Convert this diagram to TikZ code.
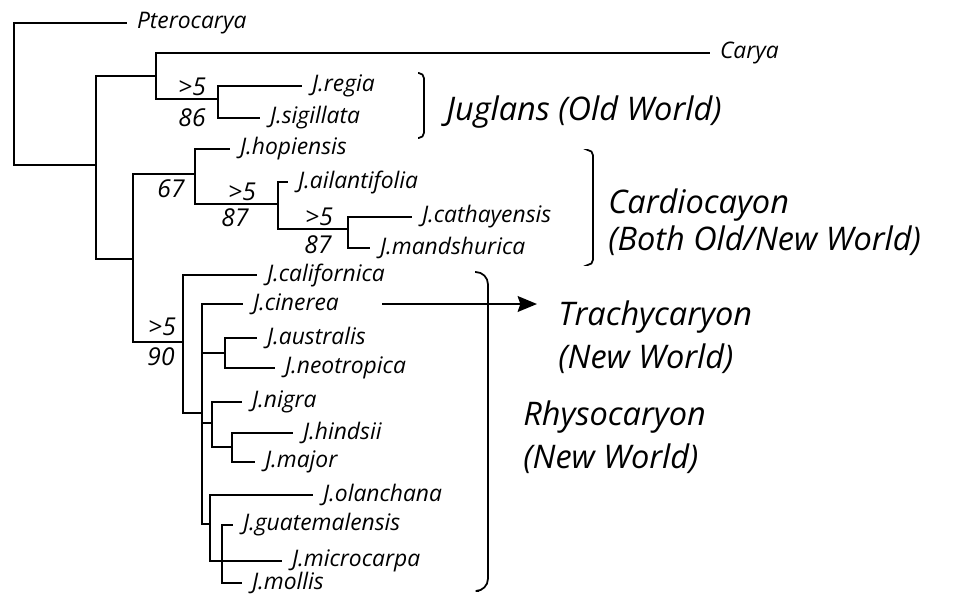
\documentclass[tikz,border=0pt]{standalone}
\usepackage{fontspec}
\setmainfont{Open Sans}
\usepackage{xcolor}
\usetikzlibrary{arrows.meta,positioning}

\newcommand{\taxonfont}{\fontsize{13}{15}\selectfont\itshape}
\newcommand{\bootfont}{\fontsize{14}{16}\selectfont\itshape}
\newcommand{\cladefont}{\fontsize{18.5}{21}\selectfont\itshape}

\begin{document}
\begin{tikzpicture}[x=0.02cm, y=-0.02cm, >={Stealth[length=11pt, width=9pt, inset=1.5pt]},
    branch/.style={line width=1.1pt},
    taxon/.style={anchor=west, inner xsep=5.5pt, inner ysep=1pt, font=\taxonfont},
    boot/.style={inner sep=0pt, font=\bootfont},
    clade/.style={anchor=west, align=left, inner sep=0pt, font=\cladefont},
    bracketline/.style={line width=1pt}]
    \useasboundingbox (0,0) rectangle (958,596);

    % Tips of the tree
    \node[taxon] (ptero) at (127,23) {Pterocarya};
    \node[taxon] (carya) at (710,53) {Carya};
    \node[taxon] (regia) at (302,86) {J.regia};
    \node[taxon] (sigil) at (260,118) {J.sigillata};
    \node[taxon] (hopi) at (230,149) {J.hopiensis};
    \node[taxon] (ailan) at (288,182) {J.ailantifolia};
    \node[taxon] (catha) at (412,217) {J.cathayensis};
    \node[taxon] (mands) at (370,248) {J.mandshurica};
    \node[taxon] (calif) at (257,275) {J.californica};
    \node[taxon] (ciner) at (243,304) {J.cinerea};
    \node[taxon] (austr) at (257,338) {J.australis};
    \node[taxon] (neotr) at (275,368) {J.neotropica};
    \node[taxon] (nigra) at (242,402) {J.nigra};
    \node[taxon] (hinds) at (293,433) {J.hindsii};
    \node[taxon] (major) at (255,462) {J.major};
    \node[taxon] (olanc) at (313,495) {J.olanchana};
    \node[taxon] (guate) at (233,525) {J.guatemalensis};
    \node[taxon] (micro) at (282,561) {J.microcarpa};
    \node[taxon] (molli) at (242,583) {J.mollis};

    % Internal nodes
    \coordinate (root) at (14,94);
    \coordinate (n1) at (96,165);
    \coordinate (n2) at (156,76);
    \coordinate (jug) at (218,99);
    \coordinate (n3) at (133,259);
    \coordinate (card) at (195,174);
    \coordinate (n4) at (278,204);
    \coordinate (n5) at (348,229);
    \coordinate (rhy) at (183,342);
    \coordinate (n6) at (202,413);
    \coordinate (n7) at (225,353);
    \coordinate (n8) at (212,423);
    \coordinate (n9) at (232,447);
    \coordinate (n10) at (210,524);
    \coordinate (n11) at (222,561);

    % Backbone
    \draw[branch] (root) |- (ptero.west) (root) |- (n1);
    \draw[branch] (n1) |- (n2) (n1) |- (n3);
    \draw[branch] (n2) |- (carya.west) (n2) |- (jug);

    % Juglans
    \draw[branch] (jug) |- (regia.west) (jug) |- (sigil.west);

    % Cardiocaryon
    \draw[branch] (n3) |- (card) (n3) |- (rhy);
    \draw[branch] (card) |- (hopi.west) (card) |- (n4);
    \draw[branch] (n4) |- (ailan.west) (n4) |- (n5);
    \draw[branch] (n5) |- (catha.west) (n5) |- (mands.west);

    % Rhysocaryon and Trachycaryon
    \draw[branch] (rhy) |- (calif.west) (rhy) |- (n6);
    \draw[branch] (n6) |- (ciner.west) (n6) |- (n7) (n6) |- (n8) (n6) |- (n10);
    \draw[branch] (n7) |- (austr.west) (n7) |- (neotr.west);
    \draw[branch] (n8) |- (nigra.west) (n8) |- (n9);
    \draw[branch] (n9) |- (hinds.west) (n9) |- (major.west);
    \draw[branch] (n10) |- (olanc.west) (n10) |- (micro.west) (n10) |- (n11);
    \draw[branch] (n11) |- (guate.west) (n11) |- (molli.west);

    % Support values
    \node[boot] (sJa) at (192,87) {>5};
    \node[boot] (sJb) at (192,118) {86};
    \node[boot] (sC) at (171,189) {67};
    \node[boot] (sKa) at (242,192) {>5};
    \node[boot] (sKb) at (235,218) {87};
    \node[boot] (sMa) at (319,217) {>5};
    \node[boot] (sMb) at (318,245) {87};
    \node[boot] (sRa) at (162,327) {>5};
    \node[boot] (sRb) at (161,357) {90};

    % Brackets
    \draw[bracketline, rounded corners=3pt] (418,73) -- (424,73) -- (424,138) -- (418,138);
    \draw[bracketline, rounded corners=3pt] (588,150) -- (593,150) -- (593,265) -- (588,265);
    \draw[bracketline, rounded corners=7pt] (475,272) -- (488,272) -- (488,591) -- (479,591);

    % Group names
    \node[clade] (jugl) at (446,112) {Juglans (Old World)};
    \node[clade] (cardl) at (608,222) {Cardiocayon\\(Both Old/New World)};
    \node[clade] (trach) at (558,337) {Trachycaryon\\[3.5pt](New World)};
    \node[clade] (rhysl) at (523,437) {Rhysocaryon\\[3.5pt](New World)};

    % Arrow to Trachycaryon
    \coordinate (tail) at (382,304);
    \coordinate (tip) at (537,304);
    \draw[branch, ->] (tail) -- (tip);
\end{tikzpicture}
\end{document}
